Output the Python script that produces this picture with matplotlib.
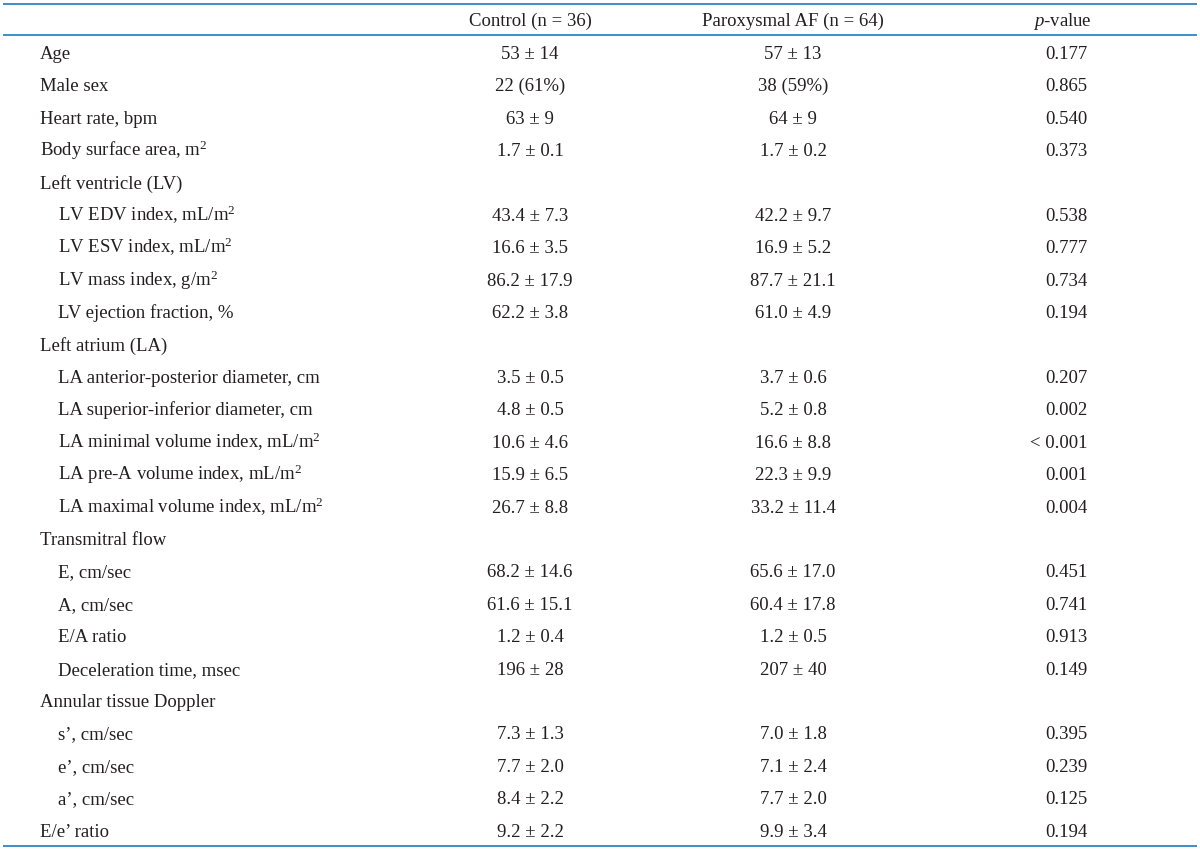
import matplotlib
matplotlib.use('Agg')
import matplotlib.pyplot as plt

plt.rcParams['font.family'] = ['Liberation Serif', 'DejaVu Serif']
plt.rcParams['mathtext.fontset'] = 'custom'
plt.rcParams['mathtext.rm'] = 'Liberation Serif'
plt.rcParams['mathtext.it'] = 'Liberation Serif:italic'

# table content
headers = ['Control (n = 36)', 'Paroxysmal AF (n = 64)', '$\\mathit{p}$-value']

labels = [
    'Age', 'Male sex', 'Heart rate, bpm', 'Body surface area, m$^2$',
    'Left ventricle (LV)',
    'LV EDV index, mL/m$^2$', 'LV ESV index, mL/m$^2$', 'LV mass index, g/m$^2$',
    'LV ejection fraction, %',
    'Left atrium (LA)',
    'LA anterior-posterior diameter, cm', 'LA superior-inferior diameter, cm',
    'LA minimal volume index, mL/m$^2$', 'LA pre-A volume index, mL/m$^2$',
    'LA maximal volume index, mL/m$^2$',
    'Transmitral flow',
    'E, cm/sec', 'A, cm/sec', 'E/A ratio', 'Deceleration time, msec',
    'Annular tissue Doppler',
    "s\u2019, cm/sec", "e\u2019, cm/sec", "a\u2019, cm/sec",
    "E/e\u2019 ratio",
]
indent = [0, 0, 0, 0, 0, 1, 1, 1, 1, 0, 1, 1, 1, 1, 1, 0, 1, 1, 1, 1, 0, 1, 1, 1, 0]

control = ['53 \u00b1 14', '22 (61%)', '63 \u00b1 9', '1.7 \u00b1 0.1', '',
           '43.4 \u00b1 7.3', '16.6 \u00b1 3.5', '86.2 \u00b1 17.9', '62.2 \u00b1 3.8', '',
           '3.5 \u00b1 0.5', '4.8 \u00b1 0.5', '10.6 \u00b1 4.6', '15.9 \u00b1 6.5', '26.7 \u00b1 8.8', '',
           '68.2 \u00b1 14.6', '61.6 \u00b1 15.1', '1.2 \u00b1 0.4', '196 \u00b1 28', '',
           '7.3 \u00b1 1.3', '7.7 \u00b1 2.0', '8.4 \u00b1 2.2', '9.2 \u00b1 2.2']
paf = ['57 \u00b1 13', '38 (59%)', '64 \u00b1 9', '1.7 \u00b1 0.2', '',
       '42.2 \u00b1 9.7', '16.9 \u00b1 5.2', '87.7 \u00b1 21.1', '61.0 \u00b1 4.9', '',
       '3.7 \u00b1 0.6', '5.2 \u00b1 0.8', '16.6 \u00b1 8.8', '22.3 \u00b1 9.9', '33.2 \u00b1 11.4', '',
       '65.6 \u00b1 17.0', '60.4 \u00b1 17.8', '1.2 \u00b1 0.5', '207 \u00b1 40', '',
       '7.0 \u00b1 1.8', '7.1 \u00b1 2.4', '7.7 \u00b1 2.0', '9.9 \u00b1 3.4']
pvals = ['0.177', '0.865', '0.540', '0.373', '',
         '0.538', '0.777', '0.734', '0.194', '',
         '0.207', '0.002', '< 0.001', '0.001', '0.004', '',
         '0.451', '0.741', '0.913', '0.149', '',
         '0.395', '0.239', '0.125', '0.194']

fig = plt.figure(figsize=(12, 8.5), dpi=100)
ax = fig.add_axes([0, 0, 1, 1])
ax.set_xlim(0, 1200)
ax.set_ylim(850, 0)
ax.axis('off')

line_color = '#3d8fc6'
fs = 13.5
txt = '#231f20'
base = 6  # baseline offset below row centre

# rules
for y in [4, 35, 846]:
    ax.plot([3, 1197], [y, y], color=line_color, lw=1.4, solid_capstyle='butt')

# header
ax.text(530, 20 + base, headers[0], ha='center', va='baseline', fontsize=fs, color=txt)
ax.text(793, 20 + base, headers[1], ha='center', va='baseline', fontsize=fs, color=txt)
ax.text(1062, 20 + base, headers[2], ha='center', va='baseline', fontsize=fs, color=txt)

row0 = 53
step = 32.4
for i, lab in enumerate(labels):
    y = row0 + i * step + base
    ax.text(40 + 18 * indent[i], y, lab, ha='left', va='baseline', fontsize=fs, color=txt)
    ax.text(530, y, control[i], ha='center', va='baseline', fontsize=fs, color=txt)
    ax.text(793, y, paf[i], ha='center', va='baseline', fontsize=fs, color=txt)
    ax.text(1087, y, pvals[i], ha='right', va='baseline', fontsize=fs, color=txt)

fig.savefig('out.png', dpi=100)
